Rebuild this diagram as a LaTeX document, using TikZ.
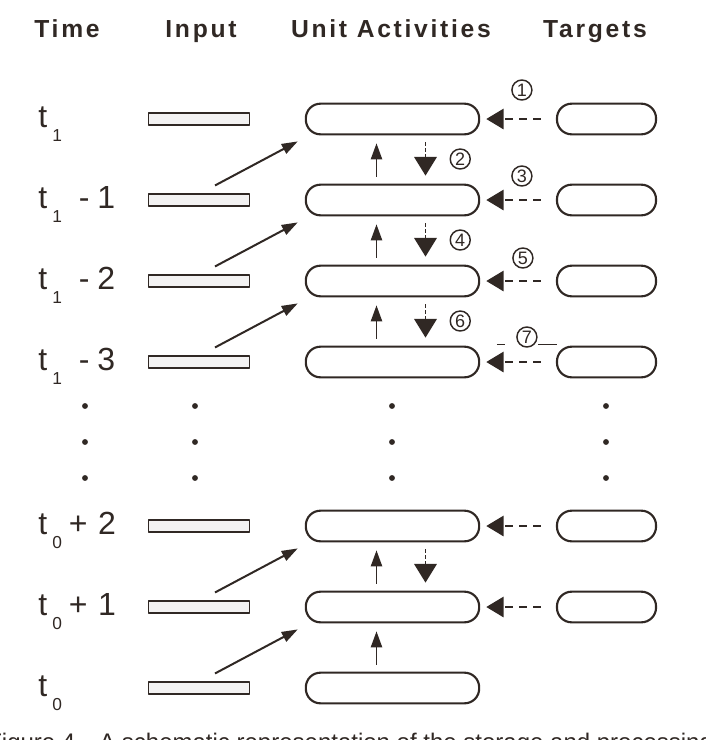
\documentclass[tikz,border=0pt]{standalone}
\usepackage{fontspec}
\setmainfont{Liberation Sans}
\newfontfamily\headfont[LetterSpace=11]{Liberation Sans}
\usetikzlibrary{positioning,calc,arrows.meta}
\definecolor{ink}{RGB}{48,40,36}

\newcommand{\timelab}[1]{t\hspace{4pt}\raisebox{-10.5pt}{\fontsize{13}{13}\selectfont #1}}

\begin{document}
\begin{tikzpicture}[x=0.75pt, y=-0.75pt, line join=round, color=ink,
	head/.style={font=\headfont\bfseries\fontsize{18.5}{20}\selectfont, anchor=base, inner sep=0pt},
	tlabel/.style={font=\fontsize{24}{26}\selectfont, anchor=base west, inner sep=0pt},
	inbar/.style={draw, line width=1.4pt, fill=ink!6, minimum width=75.8pt, minimum height=8.4pt, inner sep=0pt},
	unitbox/.style={draw, line width=1.6pt, rounded corners=11pt, minimum width=130pt, minimum height=23pt, inner sep=0pt},
	targetbox/.style={unitbox, minimum width=74.3pt},
	num/.style={draw, solid, circle, line width=1.1pt, minimum size=15pt, inner sep=0pt, font=\fontsize{13.5}{13.5}\selectfont},
	inarrow/.style={line width=1.5pt, -{Triangle[length=12pt, width=8pt]}},
	uparrow/.style={line width=1.1pt, -{Triangle[length=12pt, width=8.5pt]}},
	downarrow/.style={line width=1pt, dash pattern=on 2.5pt off 2pt, -{Triangle[length=14pt, width=17pt]}},
	tgtarrow/.style={line width=2.2pt, dash pattern=on 6pt off 4.5pt, -{Triangle[length=13pt, width=15pt]}}]
	\useasboundingbox (0,0) rectangle (706,740);

	% column heads
	\node[head] (hTime) at (67,37) {Time};
	\node[head] (hInput) at (201,37) {Input};
	\node[head] (hUnit) at (391,37) {Unit Activities};
	\node[head] (hTarget) at (595,37) {Targets};

	% rows
	\foreach \k/\y/\lab in {0/119/{\timelab{1}},
			1/200/{\timelab{1}\hspace{12.5pt}-\hspace{6pt}1},
			2/281/{\timelab{1}\hspace{12.5pt}-\hspace{6pt}2},
			3/362/{\timelab{1}\hspace{12.5pt}-\hspace{6pt}3},
			5/526/{\timelab{0}\hspace{5pt}+\hspace{8pt}2},
			6/607/{\timelab{0}\hspace{5pt}+\hspace{8pt}1},
			7/688/{\timelab{0}}} {
		\node[tlabel] (tl\k) at (38,\y+8) {\lab};
		\node[inbar] (i\k) at (199,\y) {};
		\node[unitbox] (u\k) at (392.5,\y) {};
	};
	\foreach \k/\y in {0/119,1/200,2/281,3/362,5/526,6/607} {
		\node[targetbox] (g\k) at (606.5,\y) {};
		\draw[tgtarrow] ($(g\k.west)+(-15,0)$) -- ($(u\k.east)+(6,0)$);
	};

	% dots
	\foreach \x in {85,195,392,606}
		\foreach \y in {406,442,478}
			\fill (\x,\y) circle (2.2pt);

	% input and upward arrows
	\foreach \a/\b in {0/1,1/2,2/3,5/6,6/7} {
		\draw[inarrow] ($(i\b.north)+(16,-8)$) -- ($(u\a.south west)+(-7,6)$);
		\draw[uparrow] ($(u\b.north)+(-16,-7)$) -- ($(u\a.south)+(-16,8)$);
	};

	% downward arrows
	\foreach \a/\b/\n in {0/1/2,1/2/4,2/3/6} {
		\draw[downarrow] ($(u\a.south)+(33,7)$) -- node[num, right=18pt] (n\n) {\n} ($(u\b.north)+(33,-8)$);
	};
	\draw[downarrow] ($(u5.south)+(33,7)$) -- ($(u6.north)+(33,-8)$);

	% target labels
	\foreach \k/\n/\dx/\dy in {0/1/34/29,1/3/34/24,2/5/33/23,3/7/29/25} {
		\node[num] (n\n) at ($(g\k.west)+(-\dx,-\dy)$) {\n};
	};
	\draw[line width=0.6pt] ($(n7.center)+(11,7)$) -- +(19,0);
	\draw[line width=0.6pt] ($(n7.center)+(-30,7)$) -- +(8,0);

	% caption, cut by the page edge
	\begin{scope}
		\clip (0,0) rectangle (706,740);
		\node[anchor=base west, inner sep=0pt, font=\fontsize{18}{20}\selectfont] (caption) at (-13,750)
			{Figure 4.\hspace{13pt}A schematic representation of the storage and processing};
	\end{scope}
\end{tikzpicture}
\end{document}
